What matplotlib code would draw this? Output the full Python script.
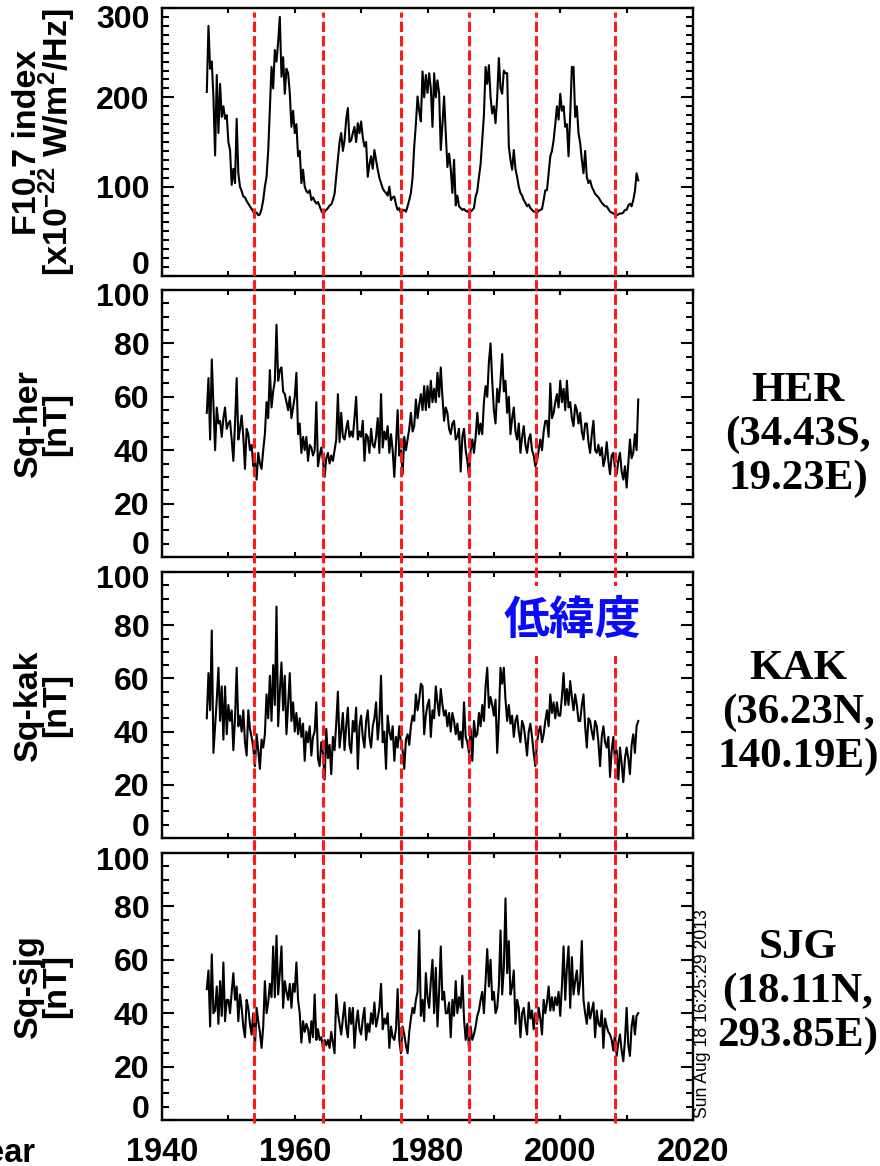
import numpy as np
import matplotlib
matplotlib.use('Agg')
import matplotlib.pyplot as plt
import matplotlib.transforms as mtransforms
from matplotlib.lines import Line2D
from matplotlib.ticker import MultipleLocator, FixedLocator, FuncFormatter

plt.rcParams['font.family'] = ['Liberation Sans', 'DejaVu Sans']
plt.rcParams['font.weight'] = 'bold'
plt.rcParams['mathtext.fontset'] = 'custom'
plt.rcParams['mathtext.rm'] = 'Liberation Sans:bold'
plt.rcParams['mathtext.it'] = 'Liberation Sans:bold'
plt.rcParams['mathtext.bf'] = 'Liberation Sans:bold'

# donnees trimestrielles, a partir de 1946.75
start_year = 1946.75
step = 0.25

f107 = [206,
    280, 232, 240, 200,  135, 225, 160, 215,  178, 190, 176, 180,
    150, 141, 102, 120,  104, 176, 115, 100,  95, 89, 88, 84,
    81, 78, 75, 72,  70, 71, 68, 69,  75, 85, 100, 111,
    140, 186, 234, 210,  253, 240, 262, 290,  223, 245, 204, 232,
    227, 205, 167, 185,  160, 170, 134, 140,  104, 119, 100, 95,
    93, 96, 85, 88,  84, 81, 83, 78,  73, 70, 72, 74,
    76, 79, 80, 85,  92, 111, 130, 150,  160, 140, 152, 175,
    188, 150, 152, 160,  167, 150, 171, 160,  173, 155, 145, 150,
    111, 125, 134, 120,  141, 130, 119, 110,  104, 98, 95, 93,
    90, 100, 85, 88,  89, 80, 74, 76,  70, 73, 74, 72,
    78, 85, 93, 110,  145, 170, 201, 185,  173, 229, 200, 225,
    205, 227, 210, 167,  227, 200, 219, 205,  141, 170, 201, 160,
    122, 137, 120, 93,  130, 79, 90, 78,  76, 74, 75, 73,
    72, 74, 72, 74,  76, 89, 95, 111,  125, 152, 180, 234,
    215, 236, 200, 182,  190, 171, 200, 244,  210, 204, 230, 227,
    227, 145, 130, 119,  141, 120, 111, 100,  93, 90, 85, 82,
    78, 80, 76, 74,  72, 72, 71, 73,  74, 75, 85, 96,
    96, 115, 134, 140,  152, 170, 190, 175,  204, 185, 190, 167,
    170, 134, 180, 234,  234, 178, 190, 160,  149, 130, 115, 140,
    111, 104, 107, 100,  96, 92, 90, 88,  85, 82, 80, 78,
    78, 75, 72, 71,  70, 69, 68, 69,  70, 70, 71, 74,
    74, 79, 81, 78,  85, 95, 115, 107]

sq_her = [54,
    67, 44, 74, 57,  40, 56, 50, 51,  45, 52, 56, 48,
    50, 51, 44, 36,  50, 67, 44, 48,  53, 45, 33, 48,
    46, 40, 42, 34,  36, 29, 39, 35,  33, 40, 46, 58,
    52, 70, 56, 62,  66, 87, 66, 70,  71, 62, 61, 58,
    55, 60, 52, 56,  60, 69, 46, 50,  39, 45, 40, 45,
    36, 42, 41, 38,  40, 58, 34, 38,  41, 36, 30, 37,
    39, 35, 38, 36,  40, 44, 61, 43,  54, 45, 44, 48,
    51, 45, 47, 45,  52, 60, 44, 47,  45, 51, 36, 46,
    45, 39, 48, 42,  41, 45, 52, 39,  61, 41, 47, 44,
    49, 39, 46, 40,  30, 42, 55, 38,  40, 31, 45, 40,
    44, 48, 54, 47,  49, 59, 52, 57,  61, 55, 64, 55,
    64, 56, 66, 58,  63, 58, 69, 60,  71, 60, 51, 56,
    54, 48, 46, 50,  51, 44, 45, 48,  32, 45, 48, 40,
    36, 30, 40, 44,  39, 45, 54, 46,  50, 46, 58, 64,
    60, 73, 80, 66,  55, 50, 63, 58,  66, 76, 62, 66,
    54, 60, 46, 52,  56, 47, 44, 50,  39, 45, 49, 42,
    39, 44, 46, 40,  38, 34, 36, 40,  44, 40, 47, 51,
    51, 45, 65, 52,  54, 58, 61, 56,  66, 58, 63, 55,
    66, 56, 58, 52,  49, 57, 55, 50,  54, 47, 44, 50,
    50, 43, 39, 46,  51, 40, 39, 42,  38, 41, 34, 37,
    43, 36, 31, 38,  39, 33, 31, 36,  39, 32, 29, 34,
    26, 35, 44, 37,  39, 46, 40, 59]

sq_kak = [45,
    62, 48, 78, 32,  42, 52, 64, 44,  57, 37, 57, 39,
    50, 44, 48, 33,  45, 64, 42, 46,  40, 48, 36, 31,
    48, 41, 38, 34,  27, 39, 33, 26,  37, 34, 39, 54,
    45, 61, 44, 65,  50, 87, 42, 55,  66, 48, 61, 39,
    50, 62, 44, 51,  40, 47, 39, 45,  38, 43, 29, 40,
    36, 42, 31, 38,  40, 51, 30, 27,  36, 32, 22, 41,
    30, 35, 24, 38,  33, 43, 55, 34,  40, 47, 33, 42,
    49, 35, 32, 44,  40, 49, 26, 42,  46, 38, 34, 44,
    48, 38, 34, 42,  45, 51, 37, 44,  61, 36, 40, 26,
    46, 40, 37, 42,  29, 38, 34, 42,  36, 33, 26, 37,
    39, 35, 42, 46,  44, 54, 48, 52,  58, 57, 39, 46,
    50, 52, 38, 48,  45, 57, 51, 46,  56, 50, 46, 48,
    42, 47, 40, 47,  44, 39, 43, 37,  40, 34, 51, 38,
    36, 32, 41, 29,  44, 38, 39, 47,  42, 50, 44, 57,
    64, 49, 53, 50,  46, 52, 32, 45,  64, 58, 64, 52,
    44, 50, 43, 46,  38, 44, 46, 40,  36, 44, 42, 37,
    31, 40, 43, 38,  32, 27, 36, 40,  42, 36, 39, 44,
    48, 42, 54, 47,  51, 45, 51, 46,  46, 53, 62, 50,
    56, 50, 59, 53,  48, 54, 50, 44,  44, 50, 54, 42,
    34, 45, 44, 40,  37, 44, 42, 36,  27, 38, 42, 36,
    34, 38, 23, 33,  38, 29, 33, 22,  34, 28, 21, 30,
    34, 30, 24, 35,  39, 32, 42, 44]

sq_sjg = [49,
    56, 35, 62, 40,  41, 50, 36, 52,  39, 59, 37, 45,
    45, 40, 48, 55,  45, 50, 37, 47,  42, 35, 31, 45,
    42, 36, 32, 40,  27, 42, 37, 33,  27, 35, 52, 40,
    44, 51, 46, 65,  46, 69, 47, 55,  65, 42, 52, 48,
    45, 51, 42, 51,  48, 59, 45, 40,  29, 37, 33, 36,
    34, 29, 37, 31,  47, 30, 34, 30,  31, 27, 30, 28,
    30, 27, 33, 29,  25, 47, 40, 36,  32, 38, 44, 35,
    31, 42, 36, 42,  27, 36, 41, 34,  32, 38, 42, 30,
    36, 33, 40, 36,  44, 35, 38, 42,  51, 34, 38, 36,
    40, 27, 35, 31,  30, 34, 49, 30,  25, 35, 32, 28,
    25, 33, 38, 42,  40, 45, 48, 71,  39, 45, 37, 55,
    46, 42, 52, 60,  40, 57, 35, 48,  65, 45, 48, 40,
    40, 44, 31, 45,  39, 52, 40, 46,  42, 54, 38, 30,
    36, 27, 35, 30,  32, 35, 39, 41,  45, 48, 40, 52,
    64, 50, 60, 45,  48, 40, 42, 50,  71, 47, 57, 83,
    55, 67, 47, 50,  56, 36, 45, 42,  31, 40, 42, 36,
    32, 44, 38, 41,  34, 40, 36, 42,  38, 32, 45, 40,
    44, 50, 41, 46,  41, 46, 43, 48,  39, 50, 65, 45,
    57, 65, 42, 61,  47, 52, 56, 47,  52, 67, 45, 40,
    36, 44, 38, 41,  44, 31, 41, 36,  35, 41, 27, 38,
    35, 33, 32, 30,  26, 32, 24, 29,  32, 26, 22, 30,
    42, 28, 24, 35,  39, 32, 39, 40]

# minima du cycle solaire (lignes rouges)
minima = [1953.9, 1964.2, 1976.0, 1986.3, 1996.4, 2008.2]

series = [f107, sq_her, sq_kak, sq_sjg]
ylabels = [('F10.7 index', r'[x10$^{-22}$ W/m$^{2}$/Hz]'),
           ('Sq-her', '[nT]'), ('Sq-kak', '[nT]'), ('Sq-sjg', '[nT]')]
ymax = [300, 100, 100, 100]
ymajor = [100, 20, 20, 20]
yminor = [10, 5, 5, 5]
stations = ['HER\n(34.43S,\n19.23E)', 'KAK\n(36.23N,\n140.19E)',
            'SJG\n(18.11N,\n293.85E)']
xticks = [1940, 1960, 1980, 2000, 2020]

W, H = 880, 1166
fig = plt.figure(figsize=(W / 100, H / 100), dpi=100)

# positions des panneaux en pixels (haut, bas)
panels = [(8, 276), (290, 557), (572, 838), (853, 1120)]
# decalage des labels extremes (pixels)
shift_top = [-8.5, -5, -5, -5]
shift_bot = [13, 14, 14, 14]
station_y = [435, 713, 992]

axes = []
for i, (top, bot) in enumerate(panels):
    ax = fig.add_axes([162 / W, 1 - bot / H, 531 / W, (bot - top) / H])
    y = series[i]
    t = start_year + step * np.arange(len(y))
    ax.plot(t, y, color='black', lw=1.5)
    ax.set_xlim(1940, 2020)
    ax.set_ylim(0, ymax[i])
    ax.xaxis.set_major_locator(FixedLocator(xticks))
    ax.xaxis.set_minor_locator(MultipleLocator(10))
    ax.yaxis.set_major_locator(MultipleLocator(ymajor[i]))
    ax.yaxis.set_minor_locator(MultipleLocator(yminor[i]))
    top_val = ymax[i]
    ax.yaxis.set_major_formatter(FuncFormatter(
        lambda v, p, m=top_val: '' if v <= 0 or v >= m else '%d' % v))
    ax.tick_params(axis='both', which='both', direction='in',
                   top=True, right=True, width=1.5)
    ax.tick_params(axis='y', which='major', length=8.5, labelsize=23, pad=9)
    ax.tick_params(axis='y', which='minor', length=5)
    ax.tick_params(axis='x', which='both', length=3.5, labelsize=23.5, pad=12)
    if i < 3:
        ax.set_xticklabels([])
    for s in ax.spines.values():
        s.set_linewidth(1.7)

    # labels 0 et max decales vers l'interieur
    for val, dy in [(top_val, shift_top[i]), (0, shift_bot[i])]:
        off = mtransforms.ScaledTranslation(-9 / 72, dy / 100, fig.dpi_scale_trans)
        ax.text(0, val, '%d' % val, transform=ax.get_yaxis_transform() + off,
                ha='right', va='center_baseline', fontsize=23, fontweight='bold')

    yc = 1 - (top + bot) / 2 / H
    fig.text(28 / W, yc, ylabels[i][0], rotation=90, ha='center', va='center',
             fontsize=24.5, fontweight='bold')
    fig.text(57 / W, yc, ylabels[i][1], rotation=90, ha='center', va='center',
             fontsize=24.5, fontweight='bold')
    if i > 0:
        fig.text(798 / W, 1 - station_y[i - 1] / H, stations[i - 1],
                 ha='center', va='center', family=['Liberation Serif'],
                 fontsize=31, fontweight='bold', linespacing=1.2)
    axes.append(ax)

# lignes rouges sur toute la hauteur
trans = mtransforms.blended_transform_factory(axes[0].transData, fig.transFigure)
for m in minima:
    fig.add_artist(Line2D([m, m], [1 - 1123 / H, 1 - 11.7 / H], transform=trans,
                          color='#ff1a1a', lw=2.2, linestyle=(0, (3.4, 1.3)),
                          zorder=5))

fig.text(572 / W, 1 - 621 / H, '低緯度', ha='center', va='center',
         family=['Noto Sans CJK JP', 'DejaVu Sans'], fontsize=33,
         fontweight='bold', color='#0a0aff', zorder=10,
         bbox=dict(facecolor='white', edgecolor='none', pad=9))

fig.text(35 / W, 1 - 1162 / H, 'Year', ha='right', va='baseline',
         fontsize=23.5, fontweight='bold')

fig.text(702 / W, 1 - 1118 / H, 'Sun Aug 18 16:25:29 2013', rotation=90,
         ha='center', va='bottom', fontsize=12.7, fontweight='normal')

fig.savefig('out.png', dpi=100)
